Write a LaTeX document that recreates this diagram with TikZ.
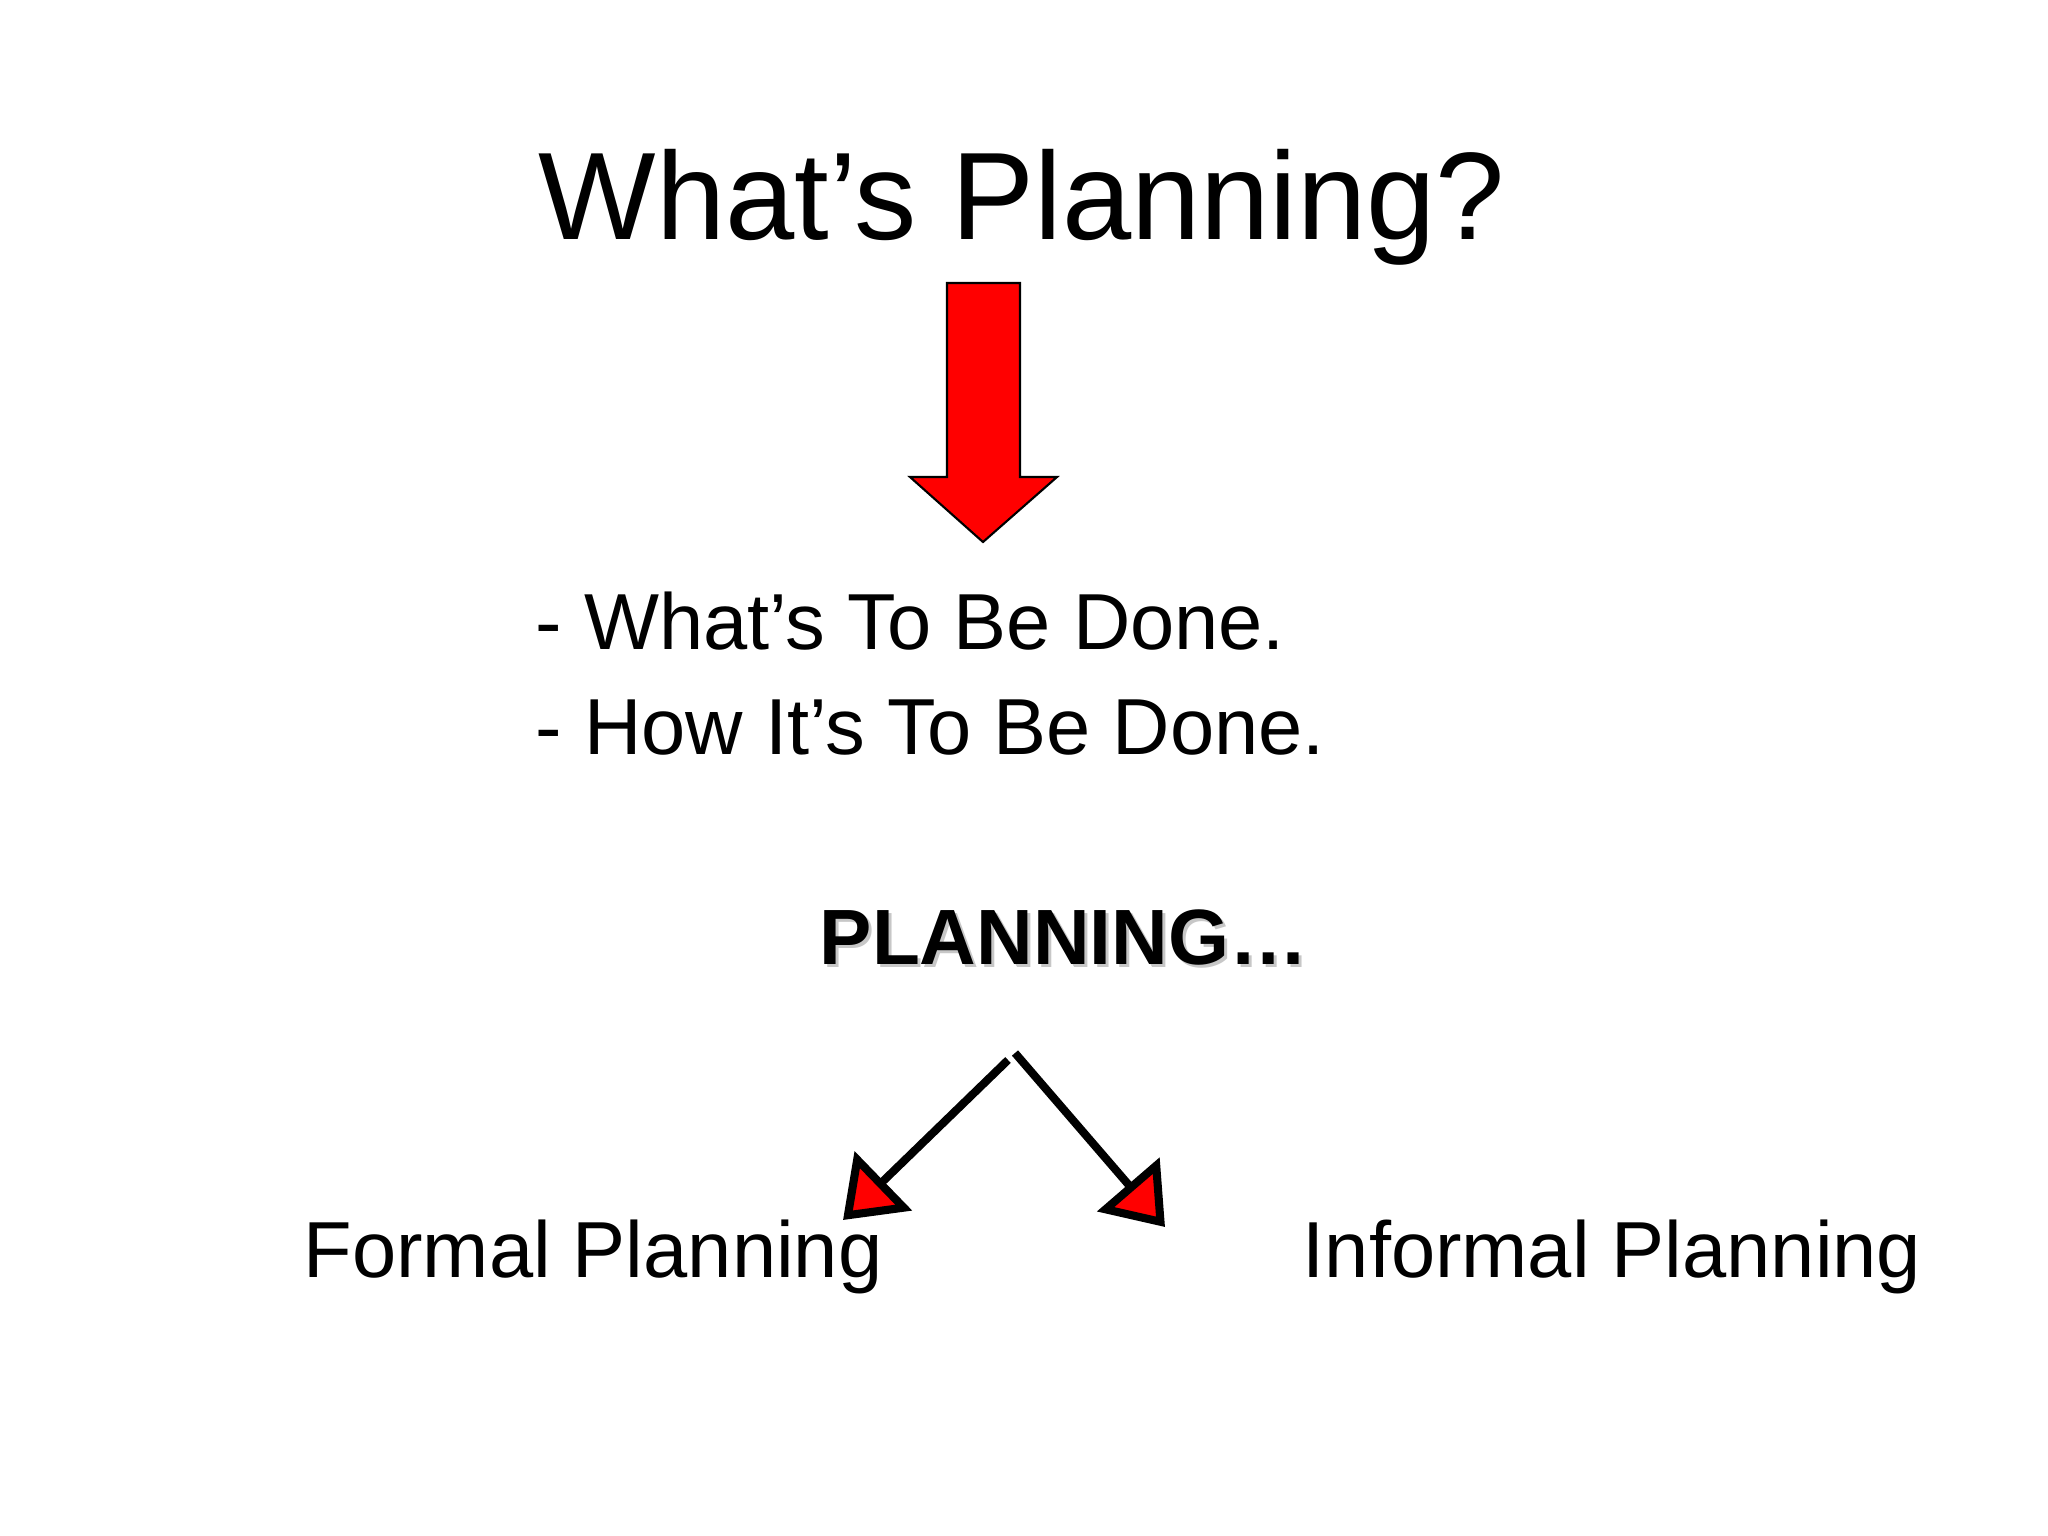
\documentclass[tikz,border=0pt]{standalone}
\usepackage{fontspec}
\setmainfont{Liberation Sans}
\usetikzlibrary{arrows.meta}
\begin{document}
\begin{tikzpicture}[x=0.01cm,y=-0.01cm]
\tikzset{
    txt/.style={anchor=base west, inner sep=0pt, font=\fontsize{22.6}{27}\selectfont},
    bigtxt/.style={anchor=base west, inner sep=0pt, font=\fontsize{35.4}{42}\selectfont},
    boldtxt/.style={anchor=base west, inner sep=0pt, font=\fontsize{22.3}{27}\selectfont\bfseries},
    branch/.style={line width=2.3pt, -{Triangle[length=16pt,width=23pt,fill=red]}},
}
\useasboundingbox[fill=white] (0,0) rectangle (2048,1536);

% Title and the big red arrow under it.
\node[bigtxt] (title) at (538,239) {What’s Planning?};
\draw[fill=red, line width=0.6pt, line join=miter]
    (947,283) -- (1020,283) -- (1020,477) -- (1057,477) -- (983,542)
    -- (910,477) -- (947,477) -- cycle;

% The two answers.
\node[txt] (what) at (535,649) {- What’s To Be Done.};
\node[txt] (how)  at (535,754) {- How It’s To Be Done.};

% Heading with its shadow first.
\node[boldtxt, text=black!22] at (822,967) {PLANNING…};
\node[boldtxt] (planning) at (819,964) {PLANNING…};

% The two kinds of planning.
\node[txt] (formal)   at (303,1277)  {Formal Planning};
\node[txt] (informal) at (1302,1277) {Informal Planning};

\coordinate (fork l) at (1008,1060); % left branch start
\coordinate (fork r) at (1015,1053); % right branch start
\coordinate (tip l)  at (843,1220);  % left tip
\coordinate (tip r)  at (1165,1227); % right tip

\draw[branch] (fork l) -- (tip l);
\draw[branch] (fork r) -- (tip r);
\end{tikzpicture}
\end{document}
